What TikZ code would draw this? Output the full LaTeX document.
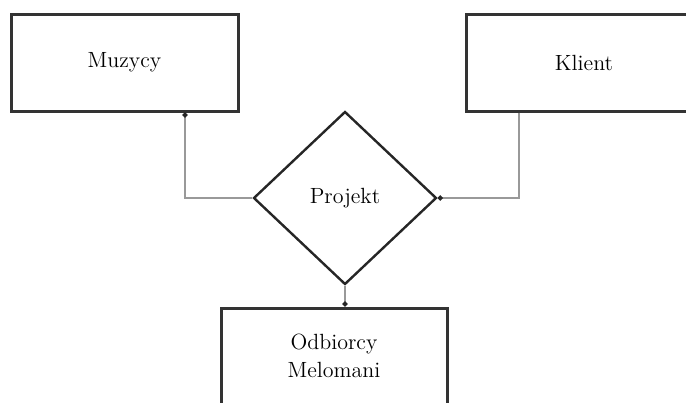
\documentclass[tikz,border=0pt]{standalone}
\usepackage{tikz}
\usetikzlibrary{shapes.geometric,arrows.meta}

\tikzset{
	entity/.style={draw=black!80,line width=1.5pt,fill=white,align=center,font=\fontsize{11}{14}\selectfont},
	relation/.style={diamond,draw=black!85,line width=1.2pt,inner sep=0pt,aspect=1,font=\fontsize{11}{14}\selectfont},
	link/.style={draw=black!40,line width=0.8pt,-{Circle[length=2.5pt,color=black!85]}}
}

\begin{document}
\begin{tikzpicture}[x=0.5pt,y=-0.5pt]
	\useasboundingbox (0,0) rectangle (686,402);
	\clip (0,0) rectangle (686,402);

	%entities
	\node[entity,minimum width=113.5pt,minimum height=48.5pt] (muz) at (124.5,62.5) {Muzycy};
	\node[entity,minimum width=118pt,minimum height=48.5pt] (kli) at (584,62.5) {Klient};
	\node[entity,minimum width=113pt,minimum height=48pt] (odb) at (334,356) {Odbiorcy\\Melomani};

	%relation
	\node[relation,minimum width=91.5pt,minimum height=86.5pt] (proj) at (345,198) {Projekt};

	%links
	\draw[link] (proj.west) -| ([xshift=30.25pt]muz.south);
	\draw[link] ([xshift=-32.5pt]kli.south) |- (proj.east);
	\draw[link] (proj.south) -- (proj.south |- odb.north);
\end{tikzpicture}
\end{document}
